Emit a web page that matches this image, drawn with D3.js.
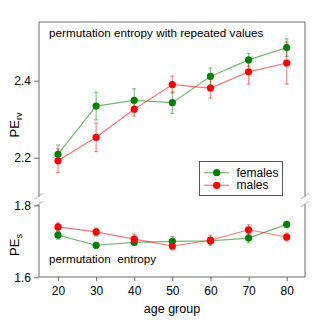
<!DOCTYPE html>
<html><head><meta charset="utf-8">
<script src="https://cdn.jsdelivr.net/npm/d3@7"></script>
<style>body{margin:0;background:#fff}text{font-family:"Liberation Sans",Arial,sans-serif;fill:#000}</style>
</head><body><svg id="c" width="330" height="328"></svg>
<script>
const ages = [20,30,40,50,60,70,80];
const rvFemales = [2.209,2.334,2.349,2.343,2.411,2.454,2.486];
const rvFemalesErr = [0.024,0.036,0.030,0.028,0.022,0.017,0.023];
const rvMales = [2.192,2.253,2.326,2.390,2.381,2.423,2.446];
const rvMalesErr = [0.031,0.037,0.018,0.022,0.026,0.032,0.055];
const sFemales = [1.717,1.689,1.697,1.700,1.701,1.709,1.747];
const sFemalesErr = [0.011,0.008,0.008,0.013,0.008,0.013,0.006];
const sMales = [1.740,1.726,1.706,1.687,1.703,1.732,1.712];
const sMalesErr = [0.011,0.011,0.014,0.011,0.014,0.014,0.011];
const rvTicks = [2.2,2.4];
const sTicks = [1.6,1.8];
const xTicks = [20,30,40,50,60,70,80];

const svg = d3.select("#c");
const L=39,R=305,T=22,B=277,topBottom=197,botTop=204;
const x = d3.scaleLinear().domain([20,80]).range([58,286.7]);
const yTop = d3.scaleLinear().domain([2.2,2.4]).range([157.7,80.7]);
const yBot = d3.scaleLinear().domain([1.6,1.8]).range([277.3,205.3]);
const frame="#6b6b6b";
const green="#008000", red="#ff0000";

// frame
const g = svg.append("g");
g.append("line").attr("x1",L).attr("x2",R).attr("y1",T).attr("y2",T).attr("stroke",frame);
g.append("line").attr("x1",L).attr("x2",R).attr("y1",B).attr("y2",B).attr("stroke",frame);
[L,R].forEach(xx=>{
  g.append("line").attr("x1",xx).attr("x2",xx).attr("y1",T).attr("y2",topBottom).attr("stroke",frame);
  g.append("line").attr("x1",xx).attr("x2",xx).attr("y1",botTop).attr("y2",B).attr("stroke",frame);
  [topBottom-1,botTop].forEach(yy=>{
    g.append("line").attr("x1",xx-4).attr("x2",xx+4).attr("y1",yy+3).attr("y2",yy-3).attr("stroke","#aaa").attr("stroke-width",0.9);
  });
});

// axes
const ax1 = svg.append("g").attr("transform",`translate(${L},0)`).call(d3.axisLeft(yTop).tickValues(rvTicks).tickFormat(d3.format(".1f")).tickSize(5).tickPadding(3));
const ax2 = svg.append("g").attr("transform",`translate(${L},0)`).call(d3.axisLeft(yBot).tickValues(sTicks).tickFormat(d3.format(".1f")).tickSize(5).tickPadding(3));
const ax3 = svg.append("g").attr("transform",`translate(0,${B})`).call(d3.axisBottom(x).tickValues(xTicks).tickSize(4).tickPadding(5));
[ax1,ax2,ax3].forEach(a=>{
  a.select(".domain").remove();
  a.selectAll(".tick line").attr("stroke",frame);
  a.selectAll("text").attr("font-size",12).attr("font-family","Liberation Sans, Arial, sans-serif").attr("fill","#000");
});

function series(vals, errs, y, color){
  const line = d3.line().x((d,i)=>x(ages[i])).y(d=>y(d));
  svg.append("path").datum(vals).attr("d",line).attr("fill","none").attr("stroke",color).attr("stroke-opacity",0.55).attr("stroke-width",1.2);
  const eb = svg.append("g").attr("stroke",color).attr("stroke-opacity",0.45).attr("stroke-width",1.2);
  vals.forEach((v,i)=>{
    const xx=x(ages[i]), e=errs[i];
    eb.append("line").attr("x1",xx).attr("x2",xx).attr("y1",y(v-e)).attr("y2",y(v+e));
    eb.append("line").attr("x1",xx-2).attr("x2",xx+2).attr("y1",y(v-e)).attr("y2",y(v-e));
    eb.append("line").attr("x1",xx-2).attr("x2",xx+2).attr("y1",y(v+e)).attr("y2",y(v+e));
  });
}
function dots(vals,y,color){
  svg.append("g").selectAll("circle").data(vals).join("circle")
    .attr("cx",(d,i)=>x(ages[i])).attr("cy",d=>y(d)).attr("r",3.6).attr("fill",color);
}
series(rvFemales,rvFemalesErr,yTop,green);
series(rvMales,rvMalesErr,yTop,red);
series(sFemales,sFemalesErr,yBot,green);
series(sMales,sMalesErr,yBot,red);
dots(rvFemales,yTop,green); dots(sFemales,yBot,green);
dots(rvMales,yTop,red); dots(sMales,yBot,red);

// texts
svg.append("text").attr("x",49).attr("y",37).attr("font-size",11.7).text("permutation entropy with repeated values");
svg.append("text").attr("x",49).attr("y",263).attr("font-size",11.7).attr("xml:space","preserve").style("white-space","pre").text("permutation  entropy");
svg.append("text").attr("x",172).attr("y",313).attr("text-anchor","middle").attr("font-size",12.5).text("age group");

function ylab(cx,cy,sub){
  const t = svg.append("text").attr("transform",`translate(${cx},${cy}) rotate(-90)`).attr("text-anchor","middle").attr("font-size",13);
  t.append("tspan").text("PE");
  t.append("tspan").attr("font-size",9).attr("dy",3).text(sub);
}
ylab(19,125,"rv");
ylab(19,245,"s");

// legend
const lg = svg.append("g");
lg.append("rect").attr("x",199.5).attr("y",161.5).attr("width",83).attr("height",34).attr("fill","#fff").attr("stroke","#555");
[["females",green,172.7],["males",red,185.3]].forEach(([lab,c,yy])=>{
  lg.append("line").attr("x1",204).attr("x2",229).attr("y1",yy).attr("y2",yy).attr("stroke",c).attr("stroke-opacity",0.55).attr("stroke-width",1.2);
  lg.append("circle").attr("cx",216.7).attr("cy",yy).attr("r",3.6).attr("fill",c);
  lg.append("text").attr("x",236.5).attr("y",yy+4).attr("font-size",12).text(lab);
});
</script></body></html>
